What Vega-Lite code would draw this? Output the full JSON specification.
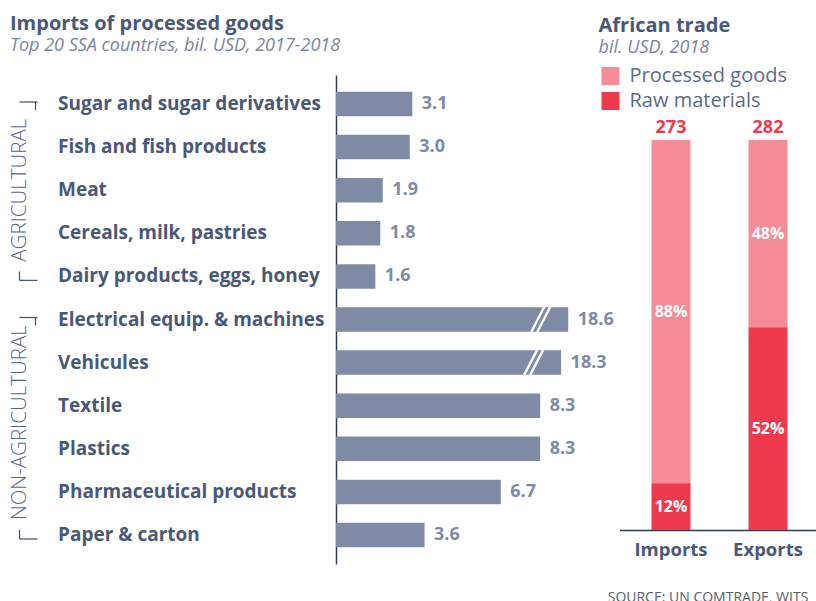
{
  "$schema": "https://vega.github.io/schema/vega-lite/v6.json",
  "padding": {"left": 8.5, "top": 14, "right": 0, "bottom": 0},
  "config": {
    "font": "Open Sans",
    "view": {"stroke": null},
    "title": {"anchor": "start", "frame": "group", "fontSize": 20, "fontWeight": "bold", "color": "#4a5878", "subtitleFontSize": 18, "subtitleFontStyle": "italic", "subtitleColor": "#7b859c", "subtitleFont": "Open Sans", "subtitlePadding": 3}
  },
  "datasets": {
    "items": [
      {"item": "Sugar and sugar derivatives", "value": 3.1, "shown": 3.1},
      {"item": "Fish and fish products", "value": 3.0, "shown": 3.0},
      {"item": "Meat", "value": 1.9, "shown": 1.9},
      {"item": "Cereals, milk, pastries", "value": 1.8, "shown": 1.8},
      {"item": "Dairy products, eggs, honey", "value": 1.6, "shown": 1.6},
      {"item": "Electrical equip. & machines", "value": 18.6, "shown": 9.44},
      {"item": "Vehicules", "value": 18.3, "shown": 9.15},
      {"item": "Textile", "value": 8.3, "shown": 8.3},
      {"item": "Plastics", "value": 8.3, "shown": 8.3},
      {"item": "Pharmaceutical products", "value": 6.7, "shown": 6.7},
      {"item": "Paper & carton", "value": 3.6, "shown": 3.6}
    ],
    "groups": [
      {"group": "AGRICULTURAL", "first": "Sugar and sugar derivatives", "last": "Dairy products, eggs, honey", "mid": "Meat"},
      {"group": "NON-AGRICULTURAL", "first": "Electrical equip. & machines", "last": "Paper & carton", "mid": "Textile"}
    ],
    "trade": [
      {"flow": "Imports", "type": "Processed goods", "pct": 0.88, "total": 273},
      {"flow": "Imports", "type": "Raw materials", "pct": 0.12, "total": 273},
      {"flow": "Exports", "type": "Processed goods", "pct": 0.48, "total": 282},
      {"flow": "Exports", "type": "Raw materials", "pct": 0.52, "total": 282}
    ]
  },
  "bounds": "flush",
  "spacing": 600,
  "resolve": {"legend": {"color": "independent"}, "scale": {"color": "independent"}},
  "hconcat": [
    {
      "bounds": "flush",
      "spacing": 298.5,
      "hconcat": [
        {
          "width": 18,
          "height": 489,
          "data": {"name": "groups"},
          "layer": [
            {
              "mark": {"type": "rule", "color": "#4a5878", "strokeWidth": 1.3, "yOffset": -2},
              "encoding": {
                "y": {"field": "first", "type": "nominal", "axis": null, "scale": {"domain": ["Sugar and sugar derivatives", "Fish and fish products", "Meat", "Cereals, milk, pastries", "Dairy products, eggs, honey", "Electrical equip. & machines", "Vehicules", "Textile", "Plastics", "Pharmaceutical products", "Paper & carton"], "paddingInner": 0.432, "paddingOuter": 0.389}},
                "x": {"value": 0},
                "x2": {"value": "width"}
              }
            },
            {
              "mark": {"type": "rule", "color": "#4a5878", "strokeWidth": 1.3, "yOffset": -2, "y2Offset": 6, "xOffset": -2},
              "encoding": {
                "y": {"field": "first", "type": "nominal"},
                "y2": {"field": "first"},
                "x": {"value": "width"}
              }
            },
            {
              "mark": {"type": "rule", "color": "#4a5878", "strokeWidth": 1.3, "yOffset": 4},
              "encoding": {
                "y": {"field": "last", "type": "nominal"},
                "x": {"value": 0},
                "x2": {"value": "width"}
              }
            },
            {
              "mark": {"type": "rule", "color": "#4a5878", "strokeWidth": 1.3, "yOffset": -5, "y2Offset": 4},
              "encoding": {
                "y": {"field": "last", "type": "nominal"},
                "y2": {"field": "last"},
                "x": {"value": 0}
              }
            },
            {
              "transform": [{"filter": "datum.group == 'AGRICULTURAL'"}],
              "mark": {"type": "text", "angle": 270, "align": "center", "baseline": "middle", "fontSize": 20.5, "fontWeight": 300, "color": "#56668a"},
              "encoding": {
                "y": {"field": "mid", "type": "nominal"},
                "x": {"value": 0},
                "text": {"field": "group"}
              }
            },
            {
              "transform": [{"filter": "datum.group == 'NON-AGRICULTURAL'"}],
              "mark": {"type": "text", "angle": 270, "align": "center", "baseline": "middle", "fontSize": 20.5, "fontWeight": 300, "color": "#56668a", "yOffset": 17},
              "encoding": {
                "y": {"field": "mid", "type": "nominal"},
                "x": {"value": 0},
                "text": {"field": "group"}
              }
            }
          ]
        },
        {
          "width": 246,
          "height": 489,
          "data": {"name": "items"},
          "title": {"text": "Imports of processed goods", "subtitle": "Top 20 SSA countries, bil. USD, 2017-2018", "dx": -326, "offset": 20},
          "encoding": {
            "y": {
              "field": "item", "type": "nominal",
              "scale": {"domain": ["Sugar and sugar derivatives", "Fish and fish products", "Meat", "Cereals, milk, pastries", "Dairy products, eggs, honey", "Electrical equip. & machines", "Vehicules", "Textile", "Plastics", "Pharmaceutical products", "Paper & carton"], "paddingInner": 0.432, "paddingOuter": 0.389},
              "axis": {"title": null, "domain": true, "domainColor": "#2e3a56", "domainWidth": 1.5, "ticks": false, "labelAlign": "left", "labelPadding": 278.5, "labelFontSize": 19, "labelFontWeight": "bold", "labelColor": "#4a5878", "labelLimit": 0}
            }
          },
          "layer": [
            {
              "mark": {"type": "bar", "color": "#7f8ba4"},
              "encoding": {
                "x": {"field": "shown", "type": "quantitative", "scale": {"domain": [0, 10], "nice": false}, "axis": null}
              }
            },
            {
              "transform": [{"filter": "datum.shown < datum.value"}],
              "mark": {"type": "rule", "color": "white", "strokeWidth": 2.4, "xOffset": -37, "x2Offset": -24, "yOffset": 12.5, "y2Offset": -12.5},
              "encoding": {
                "x": {"field": "shown", "type": "quantitative"},
                "x2": {"field": "shown"},
                "y2": {"field": "item"}
              }
            },
            {
              "transform": [{"filter": "datum.shown < datum.value"}],
              "mark": {"type": "rule", "color": "white", "strokeWidth": 2.4, "xOffset": -31, "x2Offset": -18, "yOffset": 12.5, "y2Offset": -12.5},
              "encoding": {
                "x": {"field": "shown", "type": "quantitative"},
                "x2": {"field": "shown"},
                "y2": {"field": "item"}
              }
            },
            {
              "mark": {"type": "text", "align": "left", "baseline": "middle", "dx": 9.5, "fontSize": 18, "fontWeight": "bold", "color": "#7f8ba4"},
              "encoding": {
                "x": {"field": "shown", "type": "quantitative"},
                "text": {"field": "value", "type": "quantitative", "format": ".1f"}
              }
            }
          ]
        }
      ]
    },
    {
      "width": 200,
      "height": 455,
      "data": {"name": "trade"},
      "title": {"text": "African trade", "subtitle": "bil. USD, 2018", "dx": -21, "offset": 9.5},
      "transform": [
        {"stack": "pct", "groupby": ["flow"], "sort": [{"field": "type", "order": "descending"}], "offset": "normalize", "as": ["p0", "p1"]}
      ],
      "encoding": {
        "x": {
          "field": "flow", "type": "nominal", "sort": ["Imports", "Exports"],
          "scale": {"paddingInner": 0.598, "paddingOuter": 0.33},
          "axis": {"domain": true, "domainColor": "#2e3a56", "domainWidth": 1.5, "ticks": false, "labelAngle": 0, "labelPadding": 10, "labelFontSize": 18.5, "labelFontWeight": "bold", "labelColor": "#4a5878", "title": "SOURCE: UN COMTRADE, WITS", "titleX": -12.3, "titleY": 71, "titleAlign": "left", "titleBaseline": "alphabetic", "titleFontSize": 14, "titleFontWeight": "normal", "titleColor": "#555d6e"}
        }
      },
      "layer": [
        {
          "mark": {"type": "bar"},
          "encoding": {
            "y": {"field": "p0", "type": "quantitative", "scale": {"domain": [0, 1.167], "nice": false, "zero": true}, "axis": null},
            "y2": {"field": "p1"},
            "color": {
              "field": "type", "type": "nominal",
              "scale": {"domain": ["Processed goods", "Raw materials"], "range": ["#f58d96", "#ef394c"]},
              "legend": {"orient": "none", "legendX": -19, "legendY": -9, "title": null, "symbolType": "square", "symbolSize": 324, "symbolStrokeWidth": 0, "symbolOpacity": 1, "labelFontSize": 20, "labelColor": "#5b6b8b", "labelOffset": 9, "rowPadding": 5, "padding": 0}
            }
          }
        },
        {
          "transform": [{"fold": ["p0", "p1"], "as": ["bound", "level"]}],
          "mark": {"type": "text", "color": "white", "fontWeight": "bold", "fontSize": 16, "baseline": "middle"},
          "encoding": {
            "y": {"field": "level", "type": "quantitative", "aggregate": "mean"},
            "text": {"field": "pct", "type": "quantitative", "format": ".0%"}
          }
        },
        {
          "transform": [{"filter": "datum.type == 'Processed goods'"}],
          "mark": {"type": "text", "color": "#ef394c", "fontWeight": "bold", "fontSize": 18, "baseline": "alphabetic", "dy": -7},
          "encoding": {
            "y": {"field": "p1", "type": "quantitative"},
            "text": {"field": "total", "type": "quantitative"}
          }
        }
      ]
    }
  ]
}
